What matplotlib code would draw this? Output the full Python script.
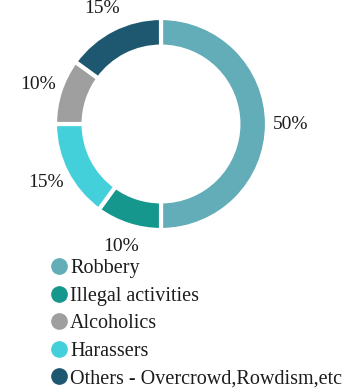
import matplotlib
matplotlib.use("Agg")
import matplotlib.pyplot as plt
from matplotlib.lines import Line2D
import numpy as np

categories = ["Robbery", "Illegal activities", "Harassers", "Alcoholics",
              "Others - Overcrowd,Rowdism,etc"]
shares = [50, 10, 15, 10, 15]
colors = ["#62adb7", "#15978d", "#44d0db", "#9f9f9f", "#1e5870"]

# legend is listed in a different order than the slices
legend_order = ["Robbery", "Illegal activities", "Alcoholics", "Harassers",
                "Others - Overcrowd,Rowdism,etc"]

plt.rcParams["font.family"] = ["Liberation Serif", "DejaVu Serif"]

fig = plt.figure(figsize=(3.58, 3.91), dpi=100)
W, H = 358, 391
cx, cy, half = 161, 124, 159
ax = fig.add_axes([(cx - half) / W, (H - cy - half) / H, 2 * half / W, 2 * half / H])

wedges, _ = ax.pie(shares, colors=colors, startangle=90, counterclock=False,
                   radius=1.0,
                   wedgeprops=dict(width=0.27, edgecolor="white", linewidth=3))
ax.set_xlim(-1.5, 1.5)
ax.set_ylim(-1.5, 1.5)
ax.set_aspect("equal")
ax.axis("off")

for w, v in zip(wedges, shares):
    mid = np.deg2rad((w.theta1 + w.theta2) / 2)
    ax.text(1.22 * np.cos(mid), 1.22 * np.sin(mid), f"{v}%", ha="center",
            va="center", fontsize=14, color="#1c1c1c", clip_on=False)

handles = []
for name in legend_order:
    c = colors[categories.index(name)]
    handles.append(Line2D([], [], linestyle="none", marker="o", markersize=11,
                          markerfacecolor=c, markeredgecolor=c, label=name))
fig.legend(handles=handles, loc="upper left", bbox_to_anchor=(49 / W, 1 - 259 / H),
           frameon=False, fontsize=14.5, handletextpad=0.05, handlelength=1.0,
           labelspacing=0.42, borderpad=0, borderaxespad=0, labelcolor="#1c1c1c")

fig.savefig("out.png", dpi=100, facecolor="white")
